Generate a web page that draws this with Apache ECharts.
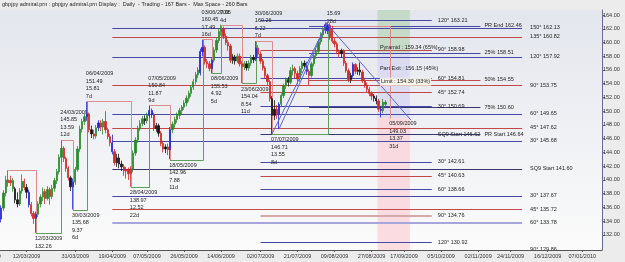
<!DOCTYPE html>
<html><head><meta charset="utf-8">
<script src="https://cdn.jsdelivr.net/npm/echarts@6.0.0/dist/echarts.min.js"></script>
<style>html,body{margin:0;padding:0;background:#ececec;}#chart{width:625px;height:262px;}</style>
</head><body><div id="chart"></div>
<script>
// ---------------- data ----------------
const titleText = 'gbpjpy admiral.prn : gbpjpy admiral.prn Display :  Daily  - Trading - 167 Bars -  Max Space - 260 Bars';
const totalBars = 260;
const tickBars = [11, 32, 48, 63, 79, 95, 112, 128, 144, 160, 174, 190, 206, 220, 236, 251];
const tickLabels = ['12/03/2009','31/03/2009','19/04/2009','07/05/2009','26/05/2009','14/06/2009','02/07/2009','21/07/2009','09/08/2009','27/08/2009','17/09/2009','05/10/2009','02/11/2009','24/11/2009','16/12/2009','07/01/2010'];
const yTicks = [132,134,136,138,140,142,144,146,148,150,152,154,156,158,160,162,164];

// [open, close, low, high]
const ohlc = [
[134.3,135.9,133.8,136.3],[135.9,138.1,135.5,138.5],[138.1,140.0,137.6,140.6],[140.0,139.6,139.0,141.4],[139.6,139.9,139.1,140.6],
[139.9,138.7,138.3,140.3],[138.7,137.1,136.6,139.0],[137.1,136.5,136.0,138.2],[136.5,138.4,136.2,138.8],[138.4,139.8,138.0,140.8],
[139.8,138.9,138.5,140.2],[138.9,138.2,137.3,139.4],[138.2,136.4,136.0,138.6],[136.4,135.1,134.7,136.8],[135.1,134.4,133.6,135.5],
[134.4,135.0,132.3,135.4],[135.0,136.5,134.6,136.9],[136.5,137.5,136.0,137.9],[137.5,138.3,136.9,138.9],[138.3,137.3,136.5,138.7],
[137.3,138.6,137.0,139.1],[138.6,137.6,136.4,138.9],[137.6,138.8,137.2,139.3],[138.8,139.9,138.3,140.3],[139.9,141.2,139.4,141.6],
[141.2,143.3,140.8,143.7],[143.3,144.6,142.7,145.8],[144.6,143.1,142.6,144.9],[143.1,141.7,141.2,143.4],[141.7,140.3,139.9,142.0],
[140.3,139.0,138.4,140.6],[139.0,139.7,135.7,140.2],[139.7,141.5,139.3,141.9],[141.5,144.5,141.2,144.9],[144.5,147.4,144.1,147.9],
[147.4,148.5,146.9,148.9],[148.5,149.2,148.0,149.7],[149.2,149.6,148.6,151.4],[149.6,147.3,146.9,149.8],[147.3,146.7,146.1,147.9],
[146.7,146.4,145.9,147.3],[146.4,147.6,146.0,148.0],[147.6,148.3,147.1,148.7],[148.3,147.7,147.1,148.7],[147.7,148.5,146.6,148.9],
[148.5,147.3,146.8,150.0],[147.3,146.3,145.9,147.6],[146.3,145.4,144.9,146.7],[145.4,144.1,143.7,146.6],[144.1,142.5,142.1,144.5],
[142.5,143.2,141.9,143.8],[143.2,142.3,141.7,143.8],[142.3,141.9,141.3,142.8],[141.9,141.3,140.6,142.3],[141.3,141.5,140.2,141.9],
[141.5,140.9,140.0,141.8],[140.9,141.6,139.0,142.0],[141.6,143.9,141.1,144.3],[143.9,145.8,143.5,146.2],[145.8,147.5,145.4,147.9],
[147.5,148.2,147.1,148.7],[148.2,148.9,147.8,149.3],[148.9,148.6,148.0,149.4],[148.6,149.4,148.2,149.8],[149.4,150.1,149.0,150.8],
[150.1,149.5,149.0,150.4],[149.5,147.5,147.1,149.8],[147.5,147.9,147.0,148.3],[147.9,146.8,146.3,148.2],[146.8,145.3,144.9,147.1],
[145.3,144.5,144.0,145.7],[144.5,144.8,143.9,145.2],[144.8,144.4,143.6,145.3],[144.4,147.3,143.0,147.7],[147.3,148.1,146.8,148.5],
[148.1,148.8,147.6,149.2],[148.8,149.4,148.3,149.8],[149.4,150.1,148.9,150.5],[150.1,150.6,149.5,150.9],[150.6,151.2,150.2,151.6],
[151.2,151.9,150.7,152.3],[151.9,152.6,151.4,153.0],[152.6,153.5,152.1,153.8],[153.5,154.3,153.1,154.7],[154.3,155.3,153.9,155.7],
[155.3,156.0,154.8,156.4],[155.6,158.7,155.2,159.1],[158.7,159.3,158.0,160.4],[159.3,157.2,156.8,159.6],[157.2,156.9,156.3,157.6],
[156.9,156.2,155.8,157.3],[156.2,157.4,155.5,157.7],[157.4,158.9,157.1,159.3],[158.9,160.3,158.5,160.7],[160.3,161.6,159.9,162.0],
[161.6,162.0,161.0,162.6],[162.0,160.9,160.5,162.3],[160.9,160.0,159.6,161.3],[160.0,159.5,158.8,160.4],[159.5,157.4,157.0,159.8],
[157.4,157.9,156.9,158.3],[157.9,157.3,156.8,158.2],[157.3,158.0,157.0,158.4],[158.0,156.9,156.5,158.4],[156.9,156.5,154.1,157.3],
[156.5,156.9,156.0,157.3],[156.9,156.3,155.9,157.3],[156.3,157.0,155.9,157.4],[157.0,157.8,156.6,158.2],[157.8,157.5,157.0,158.2],
[157.6,159.2,157.3,160.2],[159.2,158.3,157.9,159.6],[158.3,157.3,156.9,158.7],[157.3,156.3,155.9,157.6],[156.3,155.2,154.8,156.6],
[155.2,154.3,153.8,155.5],[154.3,151.8,151.4,154.6],[151.8,149.4,146.7,152.2],[149.4,150.3,148.7,151.6],[150.3,149.6,148.9,150.9],
[149.6,151.0,147.4,151.3],[151.0,152.3,150.6,152.6],[152.3,153.7,151.9,154.0],[153.7,154.6,153.2,154.9],[154.6,154.2,153.6,155.0],
[154.2,155.9,153.9,156.4],[155.9,156.2,155.2,156.8],[156.2,155.5,154.8,156.5],[155.5,154.7,153.9,155.9],[154.7,156.2,154.3,156.6],
[156.2,157.0,155.6,157.3],[157.0,156.6,156.1,157.4],[156.6,155.8,155.3,157.2],[155.8,155.2,153.8,156.1],[155.2,156.9,154.9,157.2],
[156.9,158.1,156.5,158.5],[158.1,158.7,157.6,159.1],[158.7,160.1,158.3,160.5],[160.1,161.1,159.7,161.5],[161.1,161.8,160.6,162.2],
[161.8,162.6,161.3,162.8],[162.6,161.7,161.2,162.9],[162.5,160.8,160.4,162.8],[161.9,160.2,159.9,162.4],[160.2,159.8,159.3,160.7],
[159.8,158.7,158.3,160.1],[158.7,158.4,157.9,159.0],[158.4,158.8,157.8,159.1],[158.8,157.0,156.6,159.0],[157.0,155.9,155.6,157.3],
[155.9,154.6,154.2,156.2],[154.6,155.2,154.1,155.6],[155.2,156.8,154.9,157.1],[156.8,155.8,155.4,157.0],[155.8,156.0,155.3,156.4],
[156.0,155.7,155.2,157.1],[155.7,154.4,154.1,156.0],[154.4,153.8,153.4,154.7],[153.8,153.2,152.8,154.2],[153.2,152.6,152.2,153.5],
[152.6,152.2,151.6,152.9],[152.2,151.9,151.4,152.5],[151.9,151.5,151.0,152.3],[151.5,150.3,149.9,151.8],[150.3,150.1,149.1,150.7],
[150.1,151.3,149.7,151.8],[151.3,151.0,150.6,151.6]
];
const candleKind = [
 'BGGRRGKKGG','RKBRRBGGGR','GRGGGGGRRR','KBGGGGGBRK','RGBRGRRRBR',
 'KKKRRRRGGG','GGKGBBRKKR','RKRBGGGGGG','GGGGGGBBRR','RBGGGGRRRR',
 'KKGRRGKGGK','BRRRRRRKKR','BGGGKGGRRG','GKBRGGGGGG','BBRRRRRKRR',
 'RKBRKKRRRR','RKKRBGG'
].join('');

const swingBars   = [3, 15, 26, 31, 37, 56, 64, 73, 87, 91, 95, 104, 110, 117, 141, 168];
const swingPrices = [141.40, 132.26, 145.85, 135.68, 151.49, 138.97, 150.84, 142.96, 160.45, 155.53, 162.58, 154.04, 160.26, 146.71, 162.40, 149.03];
const swingDates  = ['26/02/2009','12/03/2009','24/03/2009','30/03/2009','06/04/2009','28/04/2009','07/05/2009','18/05/2009','03/06/2009','08/06/2009','12/06/2009','23/06/2009','30/06/2009','07/07/2009','04/08/2009','05/09/2009'];
const swingRanges = ['', '9.14', '13.59', '9.37', '15.81', '12.52', '11.87', '7.88', '17.49', '4.92', '7.05', '8.54', '6.22', '13.55', '15.69', '13.37'];
const swingDays   = ['', '14d', '12d', '6d', '7d', '22d', '9d', '11d', '16d', '5d', '4d', '11d', '7d', '8d', '28d', '31d'];

const sq9aPrices = [162.13, 160.82, 157.92, 153.75, 149.65, 147.62, 145.68, 141.60, 137.67, 135.72, 133.78, 129.86];
const sq9aLabels = ['150° 162.13','135° 160.82','120° 157.92','90° 153.75','60° 149.65','45° 147.62','30° 145.68','SQ9 Start 141.60','30° 137.67','45° 135.72','60° 133.78','90° 129.86'];
const sq9bPrices = [163.21, 158.98, 154.81, 152.74, 150.69, 146.62, 142.61, 140.63, 138.66, 134.76, 130.92];
const sq9bLabels = ['120° 163.21','90° 158.98','60° 154.81','45° 152.74','30° 150.69','SQ9 Start 146.62','30° 142.61','45° 140.63','60° 138.66','90° 134.76','120° 130.92'];
const prPrices = [162.46, 158.51, 154.55, 150.60, 146.64];
const prLabels = ['PR End 162.46','25% 158.51','50% 154.55','75% 150.60','PR Start 146.64'];

const planPrices = [159.34, 156.15, 154.30];
const planLabels = ['Pyramid : 159.34 (65%)','Part Exit : 156.15 (45%)','Limit : 154.30 (33%)'];

const fanFromBars   = [117, 120, 140];
const fanFromPrices = [146.71, 147.40, 163.0];
const fanToBars     = [141, 141, 177];
const fanToPrices   = [163.0, 163.0, 148.7];

const zoneEdges = [165.0, 158.51, 149.03, 129.0];

// ---------------- styling / layout ----------------
const FF = '"Liberation Sans", Arial, sans-serif';
const FS = 5.5;
const FONT = FS + 'px ' + FF;
const kindColor = {B:'#2424d6', G:'#2c8a2c', R:'#d22828', K:'#151515'};
const zoneFill = ['rgba(186,214,186,0.75)', 'rgba(214,214,242,0.75)', 'rgba(250,210,216,0.75)'];
const categories = Array.from({length: totalBars}, (_, i) => String(i));
const crisp = v => Math.round(v) + 0.5;

function levelStyle(label) {
  if (label === '60° 133.78') return {stroke:'#a6a6dc', lineWidth:2};
  if (label === '90° 134.76') return {stroke:'#d6a8a8', lineWidth:2};
  if (/^(45|90|135)°/.test(label) || label.indexOf('50%') === 0) return {stroke:'#c24848', lineWidth:1};
  if (label.indexOf('SQ9') === 0 || label.indexOf('PR Start') === 0 || label.indexOf('75%') === 0) return {stroke:'#38356f', lineWidth:1};
  return {stroke:'#4848a6', lineWidth:1};
}

function levelSeries(prices, labels, startBar, endBar, gap) {
  return {
    type:'custom', z:3, clip:true, silent:true, animation:false,
    encode:{x:0, y:2},
    data: prices.map(p => [startBar, endBar, p]),
    renderItem(params, api) {
      const a = api.coord([api.value(0), api.value(2)]);
      const b = api.coord([api.value(1), api.value(2)]);
      const lab = labels[params.dataIndex];
      const st = levelStyle(lab);
      const y = st.lineWidth === 2 ? Math.round(a[1]) : crisp(a[1]);
      return {type:'group', children:[
        {type:'line', shape:{x1:a[0], y1:y, x2:b[0], y2:y}, style:{stroke:st.stroke, lineWidth:st.lineWidth}},
        {type:'text', x:b[0] + gap, y:a[1], style:{text:lab, fill:'#1e1e1e', font:FONT, align:'left', verticalAlign:'middle'}}
      ]};
    }
  };
}

const chart = echarts.init(document.getElementById('chart'), null, {renderer:'canvas'});

const option = {
  animation:false,
  backgroundColor:'#ececec',
  grid:{left:0, right:23, top:10, bottom:12, show:true, borderWidth:0,
    backgroundColor:{type:'linear', x:0, y:0, x2:0, y2:1, colorStops:[{offset:0, color:'#e3e6ed'},{offset:1, color:'#fbfbfb'}]}},
  graphic:[
    {type:'text', left:2, top:1, style:{text:titleText, font:FONT, fill:'#1e1e1e'}},
    {type:'text', x:-13, y:253, style:{text:'21/02/2009', font:FONT, fill:'#333', align:'center', verticalAlign:'top'}}
  ],
  xAxis:{
    type:'category', data:categories, boundaryGap:true,
    axisLine:{lineStyle:{color:'#555', width:1}},
    axisTick:{show:true, alignWithLabel:true, length:2, interval:(i) => tickBars.indexOf(i) >= 0, lineStyle:{color:'#555'}},
    axisLabel:{interval:(i) => tickBars.indexOf(i) >= 0, formatter:(v, i) => { const k = tickBars.indexOf(i); return k >= 0 ? tickLabels[k] : ''; },
      fontSize:FS, fontFamily:FF, color:'#333', margin:3},
    splitLine:{show:false}
  },
  yAxis:{
    type:'value', position:'right', min:129.8, max:164.73,
    axisLine:{show:true, lineStyle:{color:'#6a6a90', width:1}},
    axisTick:{show:true, length:3, customValues:yTicks, lineStyle:{color:'#6a6a90'}},
    axisLabel:{customValues:yTicks, formatter:(v) => Number(v).toFixed(2), fontSize:FS, fontFamily:FF, color:'#333', margin:1},
    splitLine:{show:false}
  },
  series:[
    { // trade zones
      type:'custom', z:1, clip:true, silent:true,
      encode:{x:0, y:2},
      data: zoneFill.map((c, i) => [163, 176, zoneEdges[i], zoneEdges[i + 1]]),
      renderItem(params, api) {
        const half = api.size([1, 0])[0] / 2;
        const a = api.coord([api.value(0), api.value(2)]);
        const b = api.coord([api.value(1), api.value(3)]);
        return {type:'rect', shape:{x:a[0] - half, y:a[1], width:b[0] - a[0] + 2 * half, height:b[1] - a[1]},
          style:{fill:zoneFill[params.dataIndex]}};
      }
    },
    levelSeries(sq9aPrices, sq9aLabels, 48, 225, 8),
    levelSeries(prPrices, prLabels, 133, 207, 4),
    levelSeries(sq9bPrices, sq9bLabels, 112, 186, 6),
    { // swing L-lines and annotations
      type:'custom', z:4, clip:true, silent:true,
      encode:{x:0, y:1},
      data: swingBars.map((b, i) => [b, swingPrices[i]]),
      renderItem(params, api) {
        const i = params.dataIndex;
        if (i === 0) return {type:'group', children:[]};
        const cur = api.coord([swingBars[i], swingPrices[i]]);
        const prev = api.coord([swingBars[i - 1], swingPrices[i - 1]]);
        const up = swingPrices[i] > swingPrices[i - 1];
        const px = crisp(cur[0]), py0 = crisp(prev[1]), py1 = crisp(cur[1]);
        const text = [swingDates[i], swingPrices[i].toFixed(2), swingRanges[i], swingDays[i]].join('\n');
        return {type:'group', children:[
          {type:'polyline', shape:{points:[[prev[0], py0], [px, py0], [px, py1]]},
            style:{stroke: up ? '#5e9e5e' : '#dc8e8e', lineWidth:1, fill:'none'}},
          {type:'text', x:cur[0] - 1, y: up ? cur[1] - 1 : cur[1] + 2,
            style:{text:text, font:FONT, fill:'#1e1e1e', align:'left', verticalAlign: up ? 'bottom' : 'top', lineHeight:7.5}}
        ]};
      }
    },
    {
      type:'candlestick', z:5, barWidth:1.8,
      data: ohlc.map((d, i) => {
        const c = kindColor[candleKind[i]] || '#151515';
        return {value:d, itemStyle:{color:c, color0:c, borderColor:c, borderColor0:c, borderWidth:0.8}};
      })
    },
    { // fan lines
      type:'custom', z:6, clip:true, silent:true,
      encode:{x:0, y:1},
      data: fanFromBars.map((b, i) => [b, fanFromPrices[i], fanToBars[i], fanToPrices[i]]),
      renderItem(params, api) {
        const a = api.coord([api.value(0), api.value(1)]);
        const b = api.coord([api.value(2), api.value(3)]);
        return {type:'line', shape:{x1:a[0], y1:a[1], x2:b[0], y2:b[1]}, style:{stroke:'#5a66c8', lineWidth:1}};
      }
    },
    { // trade plan texts
      type:'custom', z:7, clip:true, silent:true,
      encode:{x:0, y:1},
      data: planPrices.map(p => [164, p]),
      renderItem(params, api) {
        const a = api.coord([api.value(0), api.value(1)]);
        const isLimit = params.dataIndex === 2;
        return {type:'text', x:a[0] - 1, y:a[1],
          style:{text:planLabels[params.dataIndex], font:FONT, fill:'#1e1e1e', align:'left', verticalAlign:'middle',
            backgroundColor: isLimit ? 'rgba(250,250,236,0.9)' : null, padding: isLimit ? [1, 1] : 0}};
      }
    }
  ]
};
chart.setOption(option);
</script>
</body></html>
